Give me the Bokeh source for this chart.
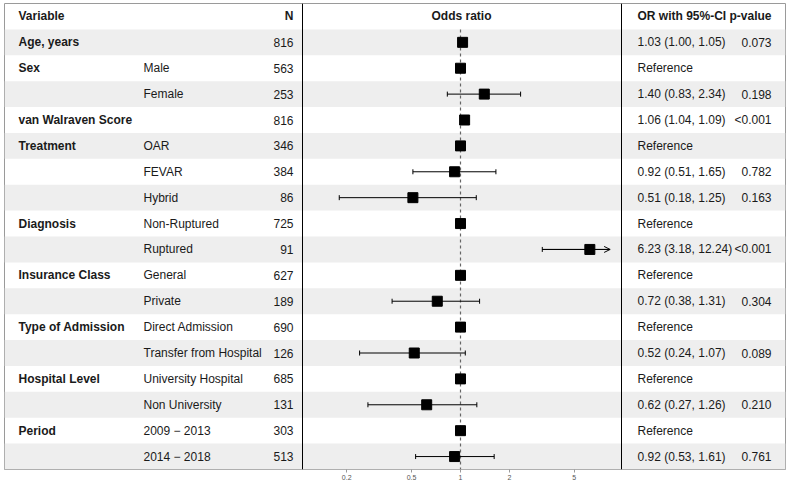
import math
from bokeh.plotting import figure
from bokeh.models import (ColumnDataSource, Range1d, LogScale, LogAxis, FixedTicker,
                          CustomJSTickFormatter, Span, Arrow, OpenHead)
from bokeh.core.properties import value
from bokeh.embed import file_html
from bokeh.resources import INLINE

# ---------------- data ----------------
variables = ["Age, years", "Sex", "", "van Walraven Score", "Treatment", "", "",
             "Diagnosis", "", "Insurance Class", "", "Type of Admission", "",
             "Hospital Level", "", "Period", ""]
levels = ["", "Male", "Female", "", "OAR", "FEVAR", "Hybrid", "Non-Ruptured", "Ruptured",
          "General", "Private", "Direct Admission", "Transfer from Hospital",
          "University Hospital", "Non University", "2009 \u2212 2013", "2014 \u2212 2018"]
n_obs = [816, 563, 253, 816, 346, 384, 86, 725, 91, 627, 189, 690, 126, 685, 131, 303, 513]
estimate = [1.03, 1.0, 1.40, 1.06, 1.0, 0.92, 0.51, 1.0, 6.23, 1.0, 0.72, 1.0, 0.52, 1.0, 0.62, 1.0, 0.92]
ci_low = [1.00, None, 0.83, 1.04, None, 0.51, 0.18, None, 3.18, None, 0.38, None, 0.24, None, 0.27, None, 0.53]
ci_high = [1.05, None, 2.34, 1.09, None, 1.65, 1.25, None, 12.24, None, 1.31, None, 1.07, None, 1.26, None, 1.61]
p_values = ["0.073", "", "0.198", "<0.001", "", "0.782", "0.163", "", "<0.001", "", "0.304", "",
            "0.089", "", "0.210", "", "0.761"]
is_reference = [False, True, False, False, True, False, False, True, False, True, False, True,
                False, True, False, True, False]
tick_values = [0.2, 0.5, 1, 2, 5]

# ---------------- layout constants (reference pixel units) ----------------
FRAME_L, FRAME_R = 4, 785
SEP1, SEP2 = 302, 621
X_VAR, X_LEV, X_N = 18, 143, 293
X_OR, X_P = 637, 771
X_HEAD_OR = 461
PX_ONE, PX_DECADE = 460, 162.8
CLIP_HI = 8.3
FONT = value("Liberation Sans")
FS = "12px"

nrows = len(variables)
rows = list(range(nrows))

or_text = []
for e, lo, hi, ref in zip(estimate, ci_low, ci_high, is_reference):
    or_text.append("Reference" if ref else f"{e:.2f} ({lo:.2f}, {hi:.2f})")

log_lo = 10 ** ((FRAME_L - PX_ONE) / PX_DECADE)
log_hi = 10 ** ((FRAME_R - PX_ONE) / PX_DECADE)

p = figure(width=789, height=485, output_backend="svg", toolbar_location=None,
           x_range=Range1d(FRAME_L, FRAME_R), y_range=Range1d(nrows - 0.5, -1.5),
           x_axis_location=None, y_axis_location=None,
           min_border_left=4, min_border_right=4, min_border_top=3, min_border_bottom=16)
p.extra_x_ranges = {"or": Range1d(log_lo, log_hi)}
p.extra_x_scales = {"or": LogScale()}
p.xgrid.visible = False
p.ygrid.visible = False
p.outline_line_color = "#9a9a9a"
p.outline_line_width = 1
p.background_fill_color = "white"
p.border_fill_color = "white"

# bands
band_rows = [r for r in rows if r % 2 == 0]
p.hbar(y=band_rows, left=FRAME_L, right=FRAME_R, height=1.0, fill_color="#eeeeee", line_color=None)

# separators
for xs in (SEP1, SEP2):
    p.add_layout(Span(location=xs, dimension="height", line_color="black", line_width=1))

# reference dashed line at OR=1
p.segment(x0=[1], x1=[1], y0=[-0.5], y1=[nrows - 0.5], x_range_name="or",
          line_color="#666666", line_width=1.2, line_dash="3 3")

# confidence intervals
seg = {"x0": [], "x1": [], "y": []}
caps_x, caps_y = [], []
for r, lo, hi in zip(rows, ci_low, ci_high):
    if lo is None:
        continue
    top = min(hi, CLIP_HI)
    seg["x0"].append(lo); seg["x1"].append(top); seg["y"].append(r)
    caps_x.append(lo); caps_y.append(r)
    if hi > CLIP_HI:
        p.add_layout(Arrow(x_start=lo, x_end=CLIP_HI, y_start=r, y_end=r, x_range_name="or",
                           line_color="black", line_width=1,
                           end=OpenHead(size=6, line_color="black", line_width=1)))
    else:
        caps_x.append(hi); caps_y.append(r)
p.segment(x0=seg["x0"], x1=seg["x1"], y0=seg["y"], y1=seg["y"], x_range_name="or",
          line_color="black", line_width=1)
p.scatter(x=caps_x, y=caps_y, marker="dash", angle=math.pi / 2, size=5, x_range_name="or",
          line_color="black", line_width=1)

# point estimates
p.scatter(x=estimate, y=rows, marker="square", size=10, x_range_name="or",
          fill_color="black", line_color="black")

# table text
src = ColumnDataSource(dict(y=rows, var=variables, lev=levels,
                            n=[str(v) for v in n_obs], ort=or_text, pv=p_values))
common = dict(y="y", source=src, text_font=FONT, text_font_size=FS, text_baseline="middle",
              text_color="#1a1a1a")
p.text(x=X_VAR, text="var", text_font_style="bold", **common)
p.text(x=X_LEV, text="lev", **common)
p.text(x=X_N, text="n", text_align="right", **common)
p.text(x=X_OR, text="ort", **common)
p.text(x=X_P, text="pv", text_align="right", **common)

# header
hdr = dict(y=[-1], text_font=FONT, text_font_size=FS, text_baseline="middle",
           text_font_style="bold", text_color="#1a1a1a")
p.text(x=[X_VAR], text=["Variable"], **hdr)
p.text(x=[X_N], text=["N"], text_align="right", **hdr)
p.text(x=[X_HEAD_OR], text=["Odds ratio"], text_align="center", **hdr)
p.text(x=[X_OR], text=["OR with 95%-CI"], **hdr)
p.text(x=[X_P], text=["p-value"], text_align="right", **hdr)

# log axis
ax = LogAxis(x_range_name="or", ticker=FixedTicker(ticks=tick_values, minor_ticks=[]),
             formatter=CustomJSTickFormatter(code="return tick.toString();"))
ax.axis_line_color = None
ax.major_tick_line_color = "#999999"
ax.major_tick_in = 0
ax.major_tick_out = 3
ax.minor_tick_line_color = None
ax.major_label_text_font = "Liberation Sans"
ax.major_label_text_font_size = "7px"
ax.major_label_text_color = "#555555"
ax.major_label_standoff = 2
p.add_layout(ax, "below")

open("out.html", "w").write(file_html(p, INLINE))
